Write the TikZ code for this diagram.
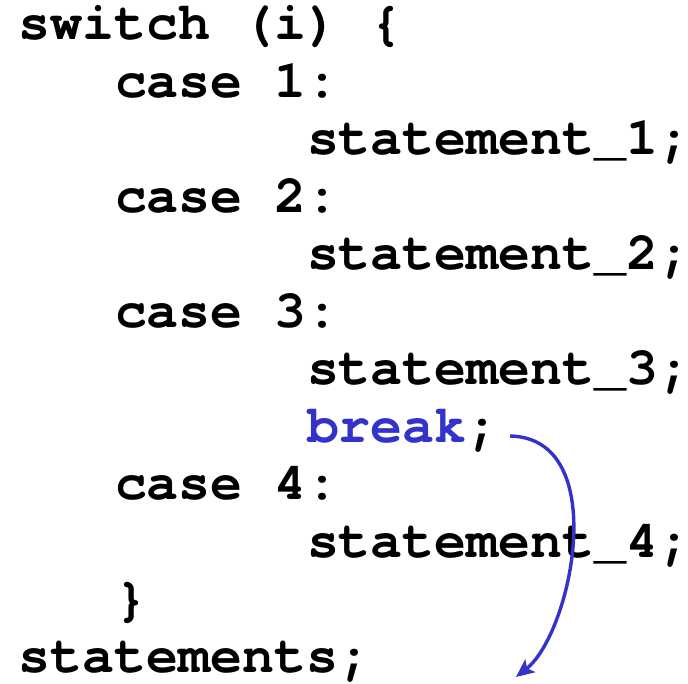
\documentclass[tikz,border=0pt]{standalone}
\usepackage{fontspec}
\newfontfamily\codefont{TeX Gyre Cursor}
\usetikzlibrary{arrows.meta}
\definecolor{kwblue}{RGB}{51,51,204}
\tikzset{
  codeline/.style={anchor=base west, inner sep=0pt, outer sep=0pt,
    font=\fontsize{53.3}{58}\selectfont\codefont\bfseries},
  jumparrow/.style={draw=kwblue, line width=3.4pt,
    -{Stealth[length=18pt,width=16pt,inset=4pt]}}
}
\begin{document}
\begin{tikzpicture}[x=1pt,y=1pt]
  \useasboundingbox (0,0) rectangle (688,683);
  % one code line per node; column width 32pt, line pitch 57.5pt
  \node[codeline] (l1)  at (19, 643)   {switch (i) \{};
  \node[codeline] (l2)  at (115, 585.5) {case 1:};
  \node[codeline] (l3)  at (307, 528)   {statement\_1;};
  \node[codeline] (l4)  at (115, 470.5) {case 2:};
  \node[codeline] (l5)  at (307, 413)   {statement\_2;};
  \node[codeline] (l6)  at (115, 355.5) {case 3:};
  \node[codeline] (l7)  at (307, 298)   {statement\_3;};
  \node[codeline] (l8)  at (307, 240.5) {{\color{kwblue}break};};
  \node[codeline] (l9)  at (115, 183)   {case 4:};
  \node[codeline] (l10) at (307, 125.5) {statement\_4;};
  \node[codeline] (l11) at (115, 68)    {\}};
  \node[codeline] (l12) at (19, 10.5)   {statements;};
  % jump taken by break: out of the switch to the following statement
  \coordinate (jstart) at (510, 247);
  \coordinate (jend) at (516, 6);
  \draw[jumparrow] (jstart) .. controls (612, 245) and (572, 50) .. (jend);
\end{tikzpicture}
\end{document}
